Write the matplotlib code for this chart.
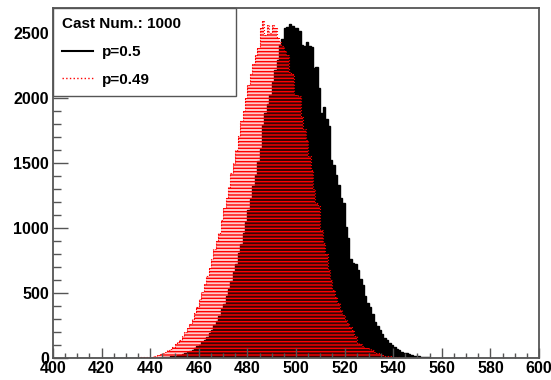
import numpy as np
import matplotlib
matplotlib.use('Agg')
import matplotlib.pyplot as plt
from matplotlib.lines import Line2D
from matplotlib.ticker import MultipleLocator

plt.rcParams['font.family'] = ['Liberation Sans', 'DejaVu Sans']
plt.rcParams['hatch.linewidth'] = 1.0

# histogram range: 200 bins of width 1 between 400 and 600
x_min, x_max = 400, 600

# p = 0.5 counts, bins 440..560
black_start = 440
black_counts = [
    1, 1, 1, 3, 3, 5, 6, 9, 12, 14,
    18, 20, 26, 31, 36, 44, 53, 62, 76, 89,
    102, 122, 142, 163, 191, 218, 250, 288, 326, 373,
    418, 473, 528, 590, 660, 725, 805, 880, 962, 1044,
    1137, 1222, 1320, 1410, 1512, 1605, 1792, 1882, 1950, 2023,
    2120, 2215, 2290, 2408, 2450, 2536, 2544, 2569, 2554, 2536,
    2536, 2515, 2408, 2400, 2428, 2395, 2390, 2228, 2236, 2074,
    1882, 1928, 1836, 1780, 1523, 1485, 1408, 1331, 1228, 1190,
    1010, 920, 760, 730, 720, 680, 610, 560, 480, 420,
    390, 340, 280, 245, 212, 185, 151, 135, 118, 100,
    85, 70, 60, 48, 42, 35, 28, 23, 18, 15,
    12, 9, 7, 5, 4, 3, 2, 2, 1, 1, 0,
]

# p = 0.49 counts, bins 430..550
red_start = 430
red_counts = [
    0, 1, 1, 2, 2, 3, 4, 5, 7, 9,
    11, 14, 17, 22, 30, 40, 47, 58, 72, 88,
    104, 122, 142, 168, 196, 228, 262, 300, 345, 395,
    450, 505, 565, 630, 690, 760, 840, 900, 960, 1062,
    1150, 1230, 1318, 1420, 1500, 1600, 1710, 1818, 1900, 2000,
    2100, 2180, 2256, 2330, 2382, 2536, 2587, 2480, 2556, 2500,
    2562, 2540, 2460, 2430, 2400, 2360, 2330, 2200, 2180, 2023,
    2023, 2010, 1856, 1760, 1677, 1549, 1446, 1300, 1190, 1167,
    985, 882, 800, 677, 600, 523, 470, 421, 369, 330,
    290, 267, 240, 215, 170, 113, 110, 95, 80, 74,
    66, 62, 48, 38, 30, 24, 19, 15, 12, 9,
    7, 5, 4, 3, 2, 2, 1, 1, 0, 0, 0,
]

legend_title = 'Cast Num.: 1000'
labels = ['p=0.5', 'p=0.49']

edges = np.arange(x_min, x_max + 1)
h_black = np.zeros(len(edges) - 1)
h_black[black_start - x_min:black_start - x_min + len(black_counts)] = black_counts
h_red = np.zeros(len(edges) - 1)
h_red[red_start - x_min:red_start - x_min + len(red_counts)] = red_counts

fig = plt.figure(figsize=(5.51, 3.80), dpi=100)
ax = fig.add_axes([0.0962, 0.0579, 0.882, 0.921])

ax.stairs(h_black, edges, fill=True, color='black', linewidth=0)
ax.stairs(h_black, edges, color='black', linewidth=1.0)
# translucent red under-layer + striped hatch, close to ROOT's dotted fill
ax.stairs(h_red, edges, fill=True, facecolor=(1, 0.1, 0.1, 0.22), linewidth=0)
ax.stairs(h_red, edges, fill=True, facecolor='none', edgecolor='red',
          hatch='-----', linewidth=0)
ax.stairs(h_red, edges, color='red', linewidth=0.8, linestyle=':')

ax.set_xlim(x_min, x_max)
ax.set_ylim(0, 2690)

ax.xaxis.set_major_locator(MultipleLocator(20))
ax.xaxis.set_minor_locator(MultipleLocator(5))
ax.yaxis.set_major_locator(MultipleLocator(500))
ax.yaxis.set_minor_locator(MultipleLocator(100))
ax.tick_params(axis='x', which='major', direction='in', length=7.5, width=1,
               color='#555555', labelsize=11.5, pad=2)
ax.tick_params(axis='x', which='minor', direction='in', length=3.8, width=1,
               color='#555555')
ax.tick_params(axis='y', which='major', direction='in', length=11, width=1,
               color='#555555', labelsize=11.5, pad=3)
ax.tick_params(axis='y', which='minor', direction='in', length=5.5, width=1,
               color='#555555')
for lab in ax.get_xticklabels() + ax.get_yticklabels():
    lab.set_fontweight('bold')

for side in ['left', 'bottom', 'top', 'right']:
    ax.spines[side].set_color('#555555')
    ax.spines[side].set_linewidth(1.3)

handles = [Line2D([], [], color='black', linewidth=1.5),
           Line2D([], [], color='red', linewidth=1.0, linestyle=':')]
leg = ax.legend(handles, labels, title=legend_title, loc='upper left',
                bbox_to_anchor=(0, 0.74, 0.377, 0.26), mode='expand',
                borderaxespad=0, fancybox=False,
                framealpha=1, edgecolor='#555555', handlelength=2.0,
                handletextpad=0.6, labelspacing=0.9, borderpad=0.6,
                prop={'weight': 'bold', 'size': 11},
                title_fontproperties={'weight': 'bold', 'size': 11})
leg._legend_box.align = 'left'
leg.get_frame().set_linewidth(1.0)

fig.savefig('out.png', dpi=100)
